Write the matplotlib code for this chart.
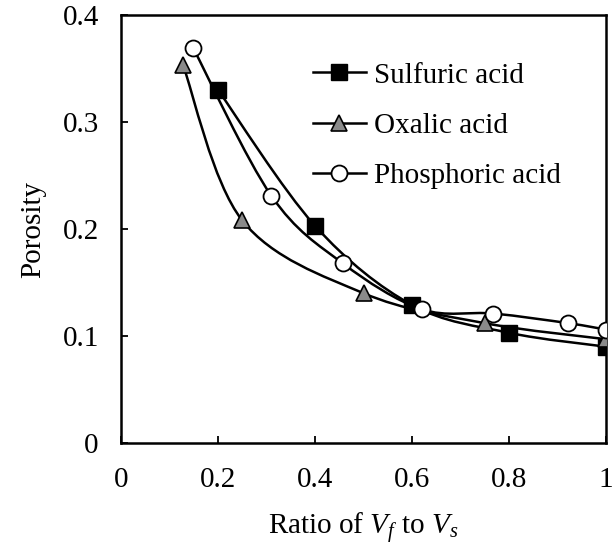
import numpy as np
import matplotlib
matplotlib.use("Agg")
import matplotlib.pyplot as plt
from matplotlib.path import Path
from matplotlib.patches import PathPatch
from matplotlib.lines import Line2D

plt.rcParams['font.family'] = ['Liberation Serif', 'DejaVu Serif']
plt.rcParams['mathtext.fontset'] = 'custom'
plt.rcParams['mathtext.rm'] = 'Liberation Serif'
plt.rcParams['mathtext.it'] = 'Liberation Serif:italic'

sulf_x = [0.2, 0.4, 0.6, 0.8, 1.0]
sulf_y = [0.330, 0.203, 0.129, 0.103, 0.090]
oxal_x = [0.128, 0.25, 0.5, 0.75, 1.0]
oxal_y = [0.353, 0.208, 0.140, 0.112, 0.097]
phos_x = [0.149, 0.31, 0.457, 0.62, 0.768, 0.922, 1.0]
phos_y = [0.369, 0.231, 0.168, 0.125, 0.121, 0.112, 0.106]

xticks = [0, 0.2, 0.4, 0.6, 0.8, 1.0]
xticklabels = ['0', '0.2', '0.4', '0.6', '0.8', '1']
yticks = [0, 0.1, 0.2, 0.3, 0.4]
yticklabels = ['0', '0.1', '0.2', '0.3', '0.4']

FS = 21

fig = plt.figure(figsize=(6.13, 5.58), dpi=100)
ax = fig.add_axes([0.1974, 0.2061, 0.7912, 0.767])


def smooth_path(xs, ys):
    pts = np.column_stack([xs, ys])
    n = len(pts)
    verts = [pts[0]]
    codes = [Path.MOVETO]
    for i in range(n - 1):
        p0 = pts[i - 1] if i > 0 else pts[i]
        p1 = pts[i]
        p2 = pts[i + 1]
        p3 = pts[i + 2] if i + 2 < n else pts[i + 1]
        c1 = p1 + (p2 - p0) / 6.0
        c2 = p2 - (p3 - p1) / 6.0
        verts += [c1, c2, p2]
        codes += [Path.CURVE4] * 3
    return Path(verts, codes)


series = [
    (sulf_x, sulf_y, dict(marker='s', markersize=11.5, markerfacecolor='black', markeredgecolor='black'), 'Sulfuric acid'),
    (oxal_x, oxal_y, dict(marker='^', markersize=11, markerfacecolor='#8a8a8a', markeredgecolor='black', markeredgewidth=1.2), 'Oxalic acid'),
    (phos_x, phos_y, dict(marker='o', markersize=11.5, markerfacecolor='white', markeredgecolor='black', markeredgewidth=1.3), 'Phosphoric acid'),
]

handles = []
for xs, ys, mk, lab in series:
    patch = PathPatch(smooth_path(xs, ys), facecolor='none', edgecolor='black', lw=1.8, zorder=2)
    ax.add_patch(patch)
for xs, ys, mk, lab in series:
    ax.plot(xs, ys, linestyle='none', zorder=3, **mk)
    handles.append(Line2D([], [], color='black', lw=1.8, **mk, label=lab))

ax.set_xlim(0, 1)
ax.set_ylim(0, 0.4)
ax.set_xticks(xticks)
ax.set_xticklabels(xticklabels)
ax.set_yticks(yticks)
ax.set_yticklabels(yticklabels)
ax.tick_params(direction='in', length=5, width=1.3, labelsize=FS, top=False, right=False)
ax.tick_params(axis='x', pad=17)
ax.tick_params(axis='y', pad=16)
for s in ax.spines.values():
    s.set_linewidth(1.8)

ax.set_xlabel('Ratio of $V_f$ to $V_s$', fontsize=FS, labelpad=13)
ax.set_ylabel('Porosity', fontsize=FS, labelpad=12)

ax.legend(handles=handles, loc='upper left', bbox_to_anchor=(0.396, 0.89), frameon=False,
          fontsize=FS, handlelength=1.8, handletextpad=0.3, labelspacing=0.82,
          borderaxespad=0, borderpad=0)

fig.savefig('out.png', dpi=100)
